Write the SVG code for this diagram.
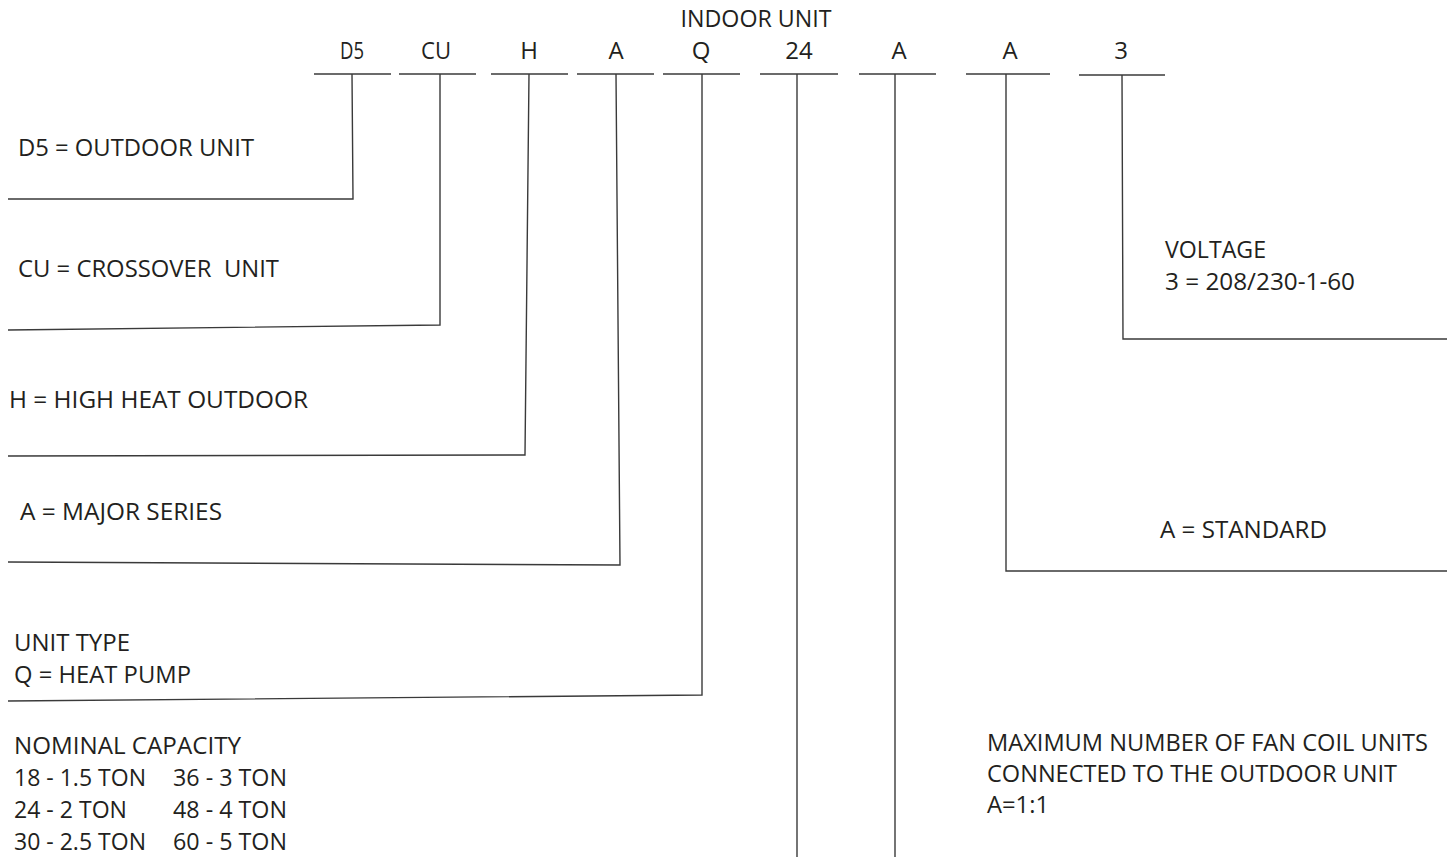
<svg xmlns="http://www.w3.org/2000/svg" width="1453" height="858" viewBox="0 0 1453 858">
<style>
text{font-family:"Open Sans","Noto Sans","Liberation Sans",sans-serif;font-size:24px;fill:#231f20;}
.c{text-anchor:middle;}
.u{stroke:#3a3a3a;stroke-width:1.4;fill:none;}
.k{stroke:#3a3a3a;stroke-width:1.4;fill:none;stroke-linejoin:miter;}
</style>
<rect width="1453" height="858" fill="#fff"/>
<g id="title"><text x="756" y="27" class="c" textLength="151" lengthAdjust="spacingAndGlyphs">INDOOR UNIT</text></g>
<g id="code-d5"><text x="352" y="59" class="c" textLength="24" lengthAdjust="spacingAndGlyphs">D5</text><line class="u" x1="314" y1="74" x2="391" y2="74"/></g>
<g id="code-cu"><text x="436" y="59" class="c" textLength="30" lengthAdjust="spacingAndGlyphs">CU</text><line class="u" x1="399" y1="74" x2="476" y2="74"/></g>
<g id="code-h"><text x="529" y="59" class="c">H</text><line class="u" x1="491" y1="74" x2="568" y2="74"/></g>
<g id="code-a1"><text x="616" y="59" class="c">A</text><line class="u" x1="577" y1="74" x2="654" y2="74"/></g>
<g id="code-q"><text x="701" y="59" class="c">Q</text><line class="u" x1="663" y1="74" x2="740" y2="74"/></g>
<g id="code-24"><text x="799" y="59" class="c">24</text><line class="u" x1="760" y1="74" x2="838" y2="74"/></g>
<g id="code-a2"><text x="899" y="59" class="c">A</text><line class="u" x1="859" y1="74" x2="936" y2="74"/></g>
<g id="code-a3"><text x="1010" y="59" class="c">A</text><line class="u" x1="966" y1="74" x2="1050" y2="74"/></g>
<g id="code-3"><text x="1121" y="59" class="c">3</text><line class="u" x1="1079" y1="75" x2="1165" y2="75"/></g>

<g id="desc-d5"><text x="18" y="156" textLength="236" lengthAdjust="spacingAndGlyphs">D5 = OUTDOOR UNIT</text></g>
<g id="desc-cu"><text x="18" y="277" textLength="261" lengthAdjust="spacingAndGlyphs" xml:space="preserve">CU = CROSSOVER  UNIT</text></g>
<g id="desc-h"><text x="9" y="408" textLength="299" lengthAdjust="spacingAndGlyphs">H = HIGH HEAT OUTDOOR</text></g>
<g id="desc-a1"><text x="20" y="520" textLength="202" lengthAdjust="spacingAndGlyphs">A = MAJOR SERIES</text></g>
<g id="desc-q"><text x="14" y="651" textLength="116" lengthAdjust="spacingAndGlyphs">UNIT TYPE</text><text x="14" y="683" textLength="177" lengthAdjust="spacingAndGlyphs">Q = HEAT PUMP</text></g>
<g id="desc-24">
<text x="14" y="754" textLength="227" lengthAdjust="spacingAndGlyphs">NOMINAL CAPACITY</text>
<text x="14" y="786" textLength="132" lengthAdjust="spacingAndGlyphs">18 - 1.5 TON</text>
<text x="173" y="786" textLength="114" lengthAdjust="spacingAndGlyphs">36 - 3 TON</text>
<text x="14" y="818" textLength="113" lengthAdjust="spacingAndGlyphs">24 - 2 TON</text>
<text x="173" y="818" textLength="114" lengthAdjust="spacingAndGlyphs">48 - 4 TON</text>
<text x="14" y="850" textLength="132" lengthAdjust="spacingAndGlyphs">30 - 2.5 TON</text>
<text x="173" y="850" textLength="114" lengthAdjust="spacingAndGlyphs">60 - 5 TON</text>
</g>
<g id="desc-3"><text x="1165" y="258" textLength="101" lengthAdjust="spacingAndGlyphs">VOLTAGE</text><text x="1165" y="290" textLength="190" lengthAdjust="spacingAndGlyphs">3 = 208/230-1-60</text></g>
<g id="desc-a3"><text x="1160" y="538" textLength="167" lengthAdjust="spacingAndGlyphs">A = STANDARD</text></g>
<g id="desc-a2">
<text x="987" y="751" textLength="441" lengthAdjust="spacingAndGlyphs">MAXIMUM NUMBER OF FAN COIL UNITS</text>
<text x="987" y="782" textLength="410" lengthAdjust="spacingAndGlyphs">CONNECTED TO THE OUTDOOR UNIT</text>
<text x="987" y="813" textLength="62" lengthAdjust="spacingAndGlyphs">A=1:1</text>
</g>

<g id="connectors">
<path class="k" d="M352 74 L353 199 L8 199"/>
<path class="k" d="M440 74 L440 325 L8 330"/>
<path class="k" d="M529 74 L525 455 L8 456"/>
<path class="k" d="M616 74 L620 565 L8 562"/>
<path class="k" d="M702 74 L702 695 L8 701"/>
<path class="k" d="M797 74 L797 857"/>
<path class="k" d="M895 74 L895 857"/>
<path class="k" d="M1006 74 L1006 571 L1447 571"/>
<path class="k" d="M1122 75 L1123 339 L1447 339"/>
</g>
</svg>
